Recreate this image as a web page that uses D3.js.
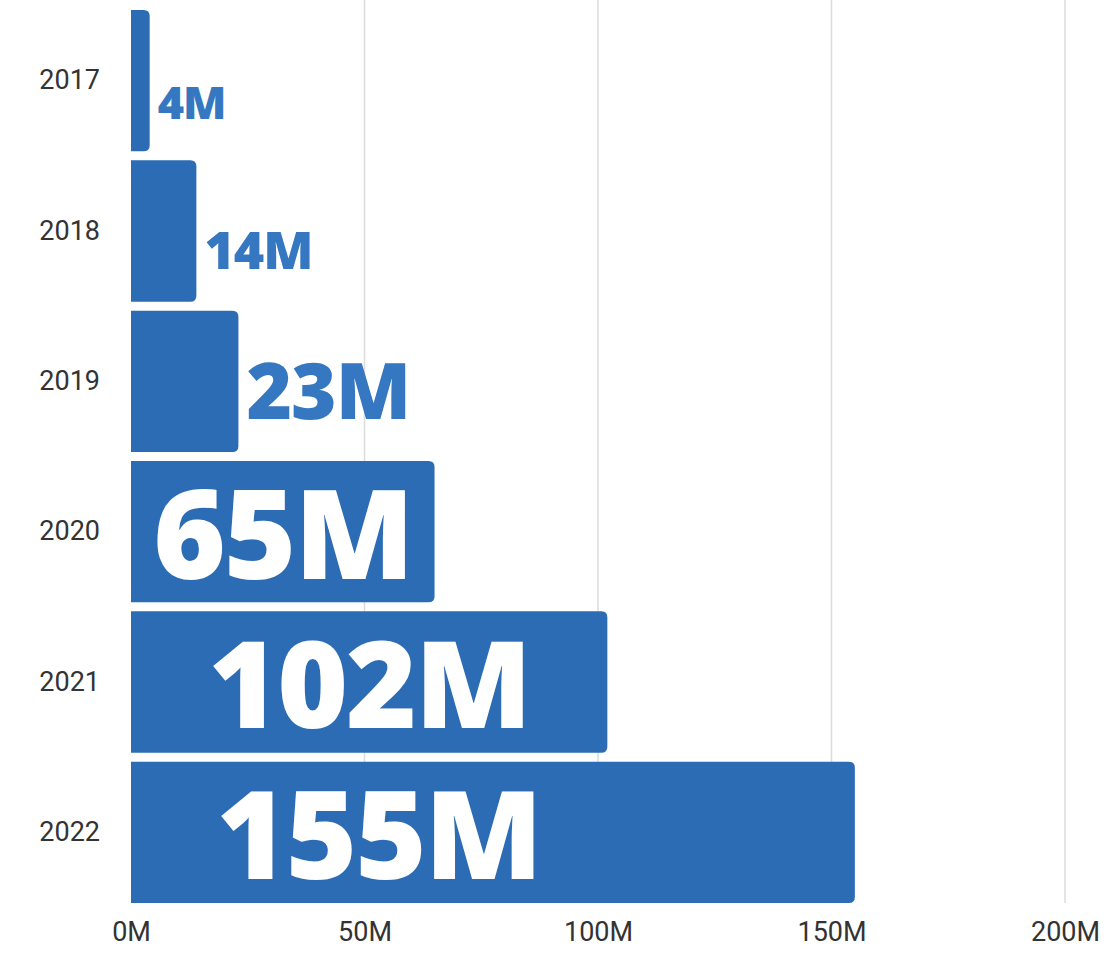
<!DOCTYPE html>
<html>
<head>
<meta charset="utf-8">
<script src="https://cdn.jsdelivr.net/npm/d3@7"></script>
<style>
  html, body { margin: 0; padding: 0; background: #fff; }
  svg { display: block; }
</style>
</head>
<body>
<div id="container"></div>
<script>
/* DATA */
const years = ["2017", "2018", "2019", "2020", "2021", "2022"];
const values = [4, 14, 23, 65, 102, 155]; // millions
const labels = ["4M", "14M", "23M", "65M", "102M", "155M"];
const tickValues = [0, 50, 100, 150, 200];

/* CONSTANTS */
const width = 1112,
  height = 953,
  margin = { top: 10, bottom: 50, left: 131, right: 47 },
  barColor = "#2b6cb5",
  outsideColor = "#3577c0",
  radius = 6;

// font size of each value label (px), index-matched to years
const labelSize = [45, 52, 78, 124, 121, 122];

const svg = d3.select("#container")
  .append("svg")
  .attr("width", width)
  .attr("height", height);

// + SCALES
const xScale = d3.scaleLinear()
  .domain([0, 200])
  .range([margin.left, width - margin.right]);

const yScale = d3.scaleBand()
  .domain(years)
  .range([margin.top, height - margin.bottom])
  .paddingInner(0.06)
  .paddingOuter(0);

// + GRIDLINES
svg.append("g")
  .selectAll("line")
  .data(tickValues.filter(d => d > 0))
  .join("line")
  .attr("x1", d => xScale(d))
  .attr("x2", d => xScale(d))
  .attr("y1", 0)
  .attr("y2", height - margin.bottom)
  .attr("stroke", "#dcdcdc")
  .attr("stroke-width", 1.5);

// + X AXIS (labels only)
const xAxis = d3.axisBottom(xScale)
  .tickValues(tickValues)
  .tickFormat(d => d + "M")
  .tickSize(0)
  .tickPadding(19);

svg.append("g")
  .attr("transform", `translate(0, ${height - margin.bottom})`)
  .call(xAxis)
  .call(g => g.select(".domain").remove())
  .call(g => g.selectAll("text")
    .attr("font-family", "Roboto, sans-serif")
    .attr("font-size", 27)
    .attr("fill", "#333"));

// + Y AXIS (labels only)
const yAxis = d3.axisLeft(yScale).tickSize(0).tickPadding(31);

svg.append("g")
  .attr("transform", `translate(${margin.left}, 0)`)
  .call(yAxis)
  .call(g => g.select(".domain").remove())
  .call(g => g.selectAll("text")
    .attr("font-family", "Roboto, sans-serif")
    .attr("font-size", 27)
    .attr("fill", "#333"));

// bar path with rounded right corners
function barPath(x0, y0, w, h, r) {
  return `M${x0},${y0}H${x0 + w - r}Q${x0 + w},${y0} ${x0 + w},${y0 + r}` +
    `V${y0 + h - r}Q${x0 + w},${y0 + h} ${x0 + w - r},${y0 + h}H${x0}Z`;
}

const rows = years.map((y, i) => ({ year: y, value: values[i], label: labels[i], size: labelSize[i] }));

// + BARS
svg.append("g")
  .selectAll("path")
  .data(rows)
  .join("path")
  .attr("d", d => barPath(xScale(0), yScale(d.year), xScale(d.value) - xScale(0), yScale.bandwidth(), radius))
  .attr("fill", barColor);

// + VALUE LABELS
const insideLimit = 50; // values above this get white labels inside the bar
svg.append("g")
  .selectAll("text")
  .data(rows)
  .join("text")
  .attr("font-family", "'Open Sans', sans-serif")
  .attr("font-weight", 800)
  .attr("font-size", d => d.size)
  .attr("letter-spacing", d => d.value > insideLimit ? -2 : -1)
  .attr("fill", d => d.value > insideLimit ? "#fff" : outsideColor)
  .attr("text-anchor", d => d.value > insideLimit ? "middle" : "start")
  .attr("x", d => d.value > insideLimit
    ? Math.min((xScale(0) + xScale(d.value)) / 2, xScale(53))
    : xScale(d.value) + 8)
  .attr("y", d => yScale(d.year) + yScale.bandwidth() / 2 + Math.max(0.38 * d.size, 38))
  .text(d => d.label);
</script>
</body>
</html>
